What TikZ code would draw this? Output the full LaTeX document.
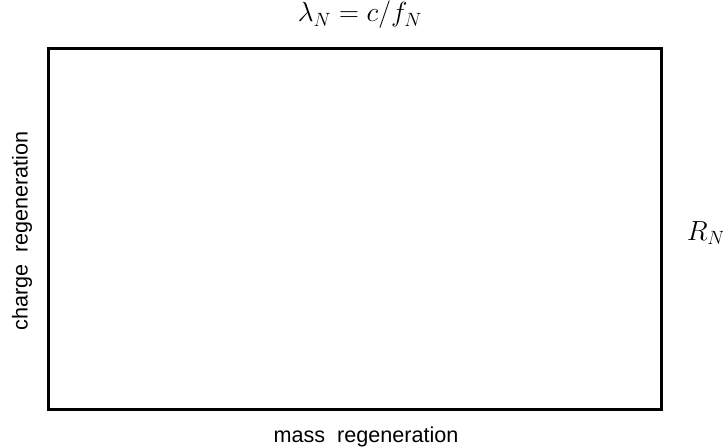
\documentclass[tikz,border=0pt]{standalone}
\usepackage{fontspec}
\setmainfont{Liberation Sans}
\begin{document}
\begin{tikzpicture}[x=0.75pt,y=-0.75pt,
  frame/.style={draw=black,line width=2.25pt},
  lbl/.style={font=\fontsize{16.2}{18}\selectfont,inner sep=0pt},
  mlbl/.style={font=\fontsize{21}{23}\selectfont,inner sep=0pt}]
\useasboundingbox (0,0) rectangle (723,448);
\draw[frame] (48.5,48.5) rectangle (661.5,409.5);
\node[mlbl] (top) at (360,15) {$\lambda_N = c/f_N$};
\node[mlbl] (right) at (706,233) {$R_N$};
\node[lbl] (bottom) at (366,437) {mass\ \ regeneration};
\node[lbl,rotate=90] (left) at (22,231) {charge\ \ regeneration};
\end{tikzpicture}
\end{document}
